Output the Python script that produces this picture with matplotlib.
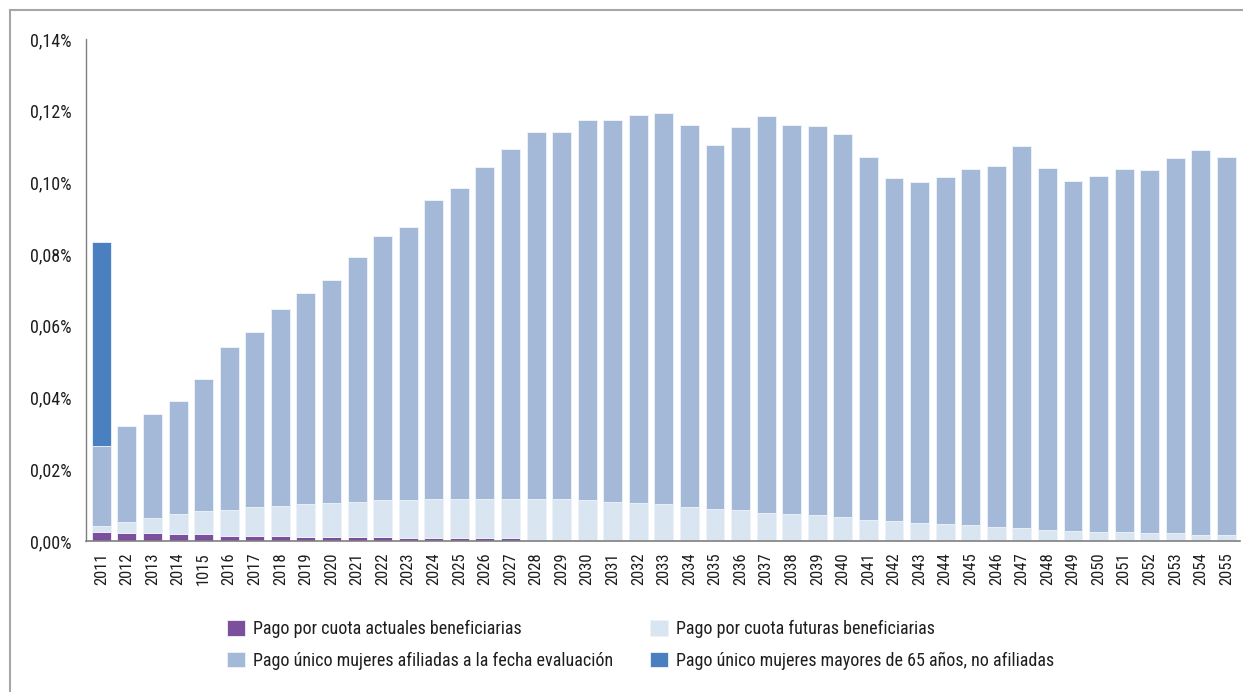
import matplotlib
matplotlib.use("Agg")
import matplotlib.pyplot as plt
from matplotlib import font_manager
from matplotlib.font_manager import FontProperties
from matplotlib.lines import Line2D
import numpy as np


def pick_condensed_font():
    """Return the path of a condensed/narrow regular sans face, or None."""
    narrow = ("condensed", "semi-condensed", "extra-condensed", "ultra-condensed")
    prefs = ["Liberation Sans Narrow", "Roboto Condensed", "Noto Sans", "Open Sans",
             "Inter", "Lato", "Roboto", "DejaVu Sans"]
    cands = []
    for f in font_manager.fontManager.ttflist:
        fn = f.fname.lower()
        is_narrow = (str(f.stretch) in narrow or "narrow" in f.name.lower()
                     or "condensed" in fn or "narrow" in fn)
        if not is_narrow:
            continue
        if "italic" in fn or f.style != "normal":
            continue
        w = f.weight if isinstance(f.weight, int) else 400
        if w > 450 or w < 350:
            continue
        rank = next((i for i, p in enumerate(prefs) if f.name.startswith(p)), len(prefs))
        cands.append((rank, "extra" in fn or "ultra" in fn, f.fname))
    if not cands:
        return None
    cands.sort()
    return cands[0][2]


_path = pick_condensed_font()
if _path:
    def fp(size):
        return FontProperties(fname=_path, size=size)
    SCALE = 1.0
else:
    def fp(size):
        return FontProperties(family=["DejaVu Sans"], size=size)
    SCALE = 0.8

years = ["2011", "2012", "2013", "2014", "1015"] + [str(y) for y in range(2016, 2056)]

# Values in % of GDP, stacked bottom to top
cuota_actuales = [0.0026, 0.0022, 0.0022, 0.0019, 0.0019, 0.0015, 0.0015, 0.0015,
                  0.0011, 0.0011, 0.0011, 0.0011, 0.0008, 0.0008, 0.0008, 0.0008, 0.0008] \
                 + [0.0003] * 11 + [0.0] * 17

cuota_futuras = [0.0015, 0.0030, 0.0042, 0.0056, 0.0065, 0.0072, 0.0080, 0.0083, 0.0091,
                 0.0095, 0.0099, 0.0103, 0.0105, 0.0109, 0.0109, 0.0109, 0.0109, 0.0114,
                 0.0114, 0.0110, 0.0106, 0.0102, 0.0099, 0.0091, 0.0087, 0.0083, 0.0076,
                 0.0072, 0.0072, 0.0068, 0.0059, 0.0056, 0.0051, 0.0048, 0.0045, 0.0040,
                 0.0036, 0.0032, 0.0029, 0.0026, 0.0026, 0.0022, 0.0022, 0.0018, 0.0018]

unico_afiliadas = [0.0223, 0.0268, 0.0290, 0.0316, 0.0367, 0.0454, 0.0487, 0.0548, 0.0590,
                   0.0623, 0.0683, 0.0736, 0.0763, 0.0834, 0.0867, 0.0927, 0.0976, 0.1025,
                   0.1025, 0.1060, 0.1064, 0.1083, 0.1093, 0.1067, 0.1015, 0.1068, 0.1106,
                   0.1086, 0.1086, 0.1067, 0.1012, 0.0956, 0.0950, 0.0967, 0.0993, 0.1005,
                   0.1065, 0.1009, 0.0975, 0.0993, 0.1012, 0.1012, 0.1046, 0.1073, 0.1053]

unico_no_afiliadas = [0.0570] + [0.0] * 44

series = [
    ("Pago por cuota actuales beneficiarias", cuota_actuales, "#7B4F9E"),
    ("Pago por cuota futuras beneficiarias", cuota_futuras, "#DAE5F2"),
    ("Pago único mujeres afiliadas a la fecha evaluación", unico_afiliadas, "#A4B9D8"),
    ("Pago único mujeres mayores de 65 años, no afiliadas", unico_no_afiliadas, "#4A80C0"),
]

W, H = 1243, 692
fig = plt.figure(figsize=(W / 100, H / 100), dpi=100)
ax = fig.add_axes([86 / W, 1 - 541 / H, (1240 - 86) / W, (541 - 39) / H])

x = np.arange(len(years))
bottom = np.zeros(len(years))
handles = {}
for label, vals, color in series:
    vals = np.array(vals)
    bars = ax.bar(x, vals, width=0.74, bottom=bottom, color=color,
                  edgecolor="#EEF3FA", linewidth=0.6, label=label)
    handles[label] = bars
    bottom += vals

ax.set_xlim(-0.6, 44.53)
ax.set_ylim(0, 0.14)
yt = np.arange(0, 0.141, 0.02)
ax.set_yticks(yt)
ax.set_yticklabels([f"{v:.2f}".replace(".", ",") + "%" for v in yt],
                   fontproperties=fp(13 * SCALE), color="#1E1E1E")
ax.set_xticks(x)
ax.set_xticklabels(years, rotation=90, fontproperties=fp(12 * SCALE), color="#1E1E1E")
ax.tick_params(axis="both", length=0)
ax.tick_params(axis="y", pad=10.5)
ax.tick_params(axis="x", pad=8)

for s in ("top", "right"):
    ax.spines[s].set_visible(False)
ax.spines["left"].set_color("#7F7F7F")
ax.spines["bottom"].set_color("#7F7F7F")
ax.spines["left"].set_linewidth(1.0)
ax.spines["bottom"].set_linewidth(1.2)

# Outer frame lines (top and left)
fig.add_artist(Line2D([10 / W, 1.0], [1 - 10 / H, 1 - 10 / H],
                      transform=fig.transFigure, color="#A6A6A6", lw=1.5))
fig.add_artist(Line2D([10 / W, 10 / W], [0.0, 1 - 10 / H],
                      transform=fig.transFigure, color="#A6A6A6", lw=1.5))

# Legend: two columns placed independently below the plot
leg_kw = dict(loc="upper left", frameon=False, prop=fp(13 * SCALE),
              handlelength=1.0, handleheight=0.95, handletextpad=0.45,
              labelspacing=0.75, borderaxespad=0, borderpad=0)
col1 = [series[0][0], series[2][0]]
col2 = [series[1][0], series[3][0]]
leg1 = fig.legend([handles[k] for k in col1], col1,
                  bbox_to_anchor=(227 / W, 1 - 620 / H), **leg_kw)
leg2 = fig.legend([handles[k] for k in col2], col2,
                  bbox_to_anchor=(650 / W, 1 - 620 / H), **leg_kw)
for lg in (leg1, leg2):
    for t in lg.get_texts():
        t.set_color("#1E1E1E")

fig.savefig("out.png", dpi=100)
